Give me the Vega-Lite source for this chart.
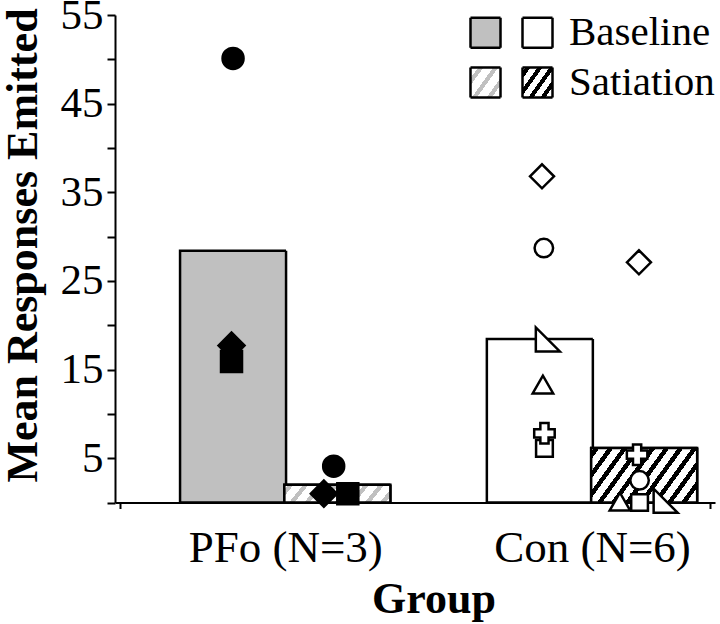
{
  "$schema": "https://vega.github.io/schema/vega-lite/v6.json",
  "width": 600,
  "height": 487.5,
  "autosize": {"type": "none"},
  "padding": {"left": 115, "top": 15, "right": 5, "bottom": 121.5},
  "background": "white",
  "config": {
    "view": {"stroke": null},
    "font": "Liberation Serif",
    "axis": {
      "labelFont": "Liberation Serif",
      "labelColor": "black",
      "labelFontSize": 43,
      "labelLimit": 400,
      "titleFont": "Liberation Serif",
      "titleFontWeight": "bold",
      "titleFontSize": 44,
      "titleColor": "black",
      "domainColor": "black",
      "domainWidth": 2,
      "tickColor": "black",
      "tickWidth": 2,
      "grid": false,
      "labelFlush": false,
      "labelOverlap": false,
      "labelBound": false
    }
  },
  "datasets": {
    "bars": [
      {"group": "PFo", "condition": "Baseline", "key": "PB", "pos": 0.83, "value": 28.4},
      {"group": "PFo", "condition": "Satiation", "key": "PS", "pos": 1.17, "value": 2.0},
      {"group": "Con", "condition": "Baseline", "key": "CB", "pos": 1.83, "value": 18.45},
      {"group": "Con", "condition": "Satiation", "key": "CS", "pos": 2.17, "value": 6.15}
    ],
    "points": [
      {"group": "PFo", "condition": "Baseline", "subject": "P1", "pos": 0.83, "value": 50.1},
      {"group": "PFo", "condition": "Baseline", "subject": "P2", "pos": 0.825, "value": 17.7},
      {"group": "PFo", "condition": "Baseline", "subject": "P3", "pos": 0.825, "value": 15.9},
      {"group": "PFo", "condition": "Satiation", "subject": "P1", "pos": 1.158, "value": 4.1},
      {"group": "PFo", "condition": "Satiation", "subject": "P2", "pos": 1.126, "value": 1.0},
      {"group": "PFo", "condition": "Satiation", "subject": "P3", "pos": 1.204, "value": 1.0},
      {"group": "Con", "condition": "Baseline", "subject": "C1", "pos": 1.837, "value": 36.8},
      {"group": "Con", "condition": "Baseline", "subject": "C2", "pos": 1.843, "value": 28.7},
      {"group": "Con", "condition": "Baseline", "subject": "C3", "pos": 1.856, "value": 18.4},
      {"group": "Con", "condition": "Baseline", "subject": "C4", "pos": 1.84, "value": 13.3},
      {"group": "Con", "condition": "Baseline", "subject": "C6", "pos": 1.845, "value": 6.1},
      {"group": "Con", "condition": "Baseline", "subject": "C5", "pos": 1.845, "value": 7.8},
      {"group": "Con", "condition": "Satiation", "subject": "C1", "pos": 2.153, "value": 27.1},
      {"group": "Con", "condition": "Satiation", "subject": "C5", "pos": 2.147, "value": 5.4},
      {"group": "Con", "condition": "Satiation", "subject": "C2", "pos": 2.155, "value": 2.5},
      {"group": "Con", "condition": "Satiation", "subject": "C6", "pos": 2.155, "value": 0},
      {"group": "Con", "condition": "Satiation", "subject": "C4", "pos": 2.091, "value": 0.1},
      {"group": "Con", "condition": "Satiation", "subject": "C3", "pos": 2.24, "value": 0.2}
    ]
  },
  "layer": [
    {
      "data": {"name": "bars"},
      "mark": {"type": "bar", "orient": "vertical", "width": 106, "stroke": "black", "strokeWidth": 2.5},
      "encoding": {
        "x": {
          "field": "pos", "type": "quantitative",
          "scale": {"domain": [0.4615, 2.3846], "nice": false, "zero": false},
          "axis": {
            "values": [0.4615, 1, 2, 2.3846],
            "labelExpr": "datum.value == 1 ? 'PFo (N=3)' : datum.value == 2 ? 'Con (N=6)' : ''",
            "tickOpacity": {"condition": {"test": "datum.value == 1 || datum.value == 2", "value": 0}, "value": 1},
            "tickSize": 6,
            "labelFontSize": 45,
            "labelBaseline": "alphabetic",
            "labelPadding": 53,
            "title": "Group",
            "titleX": 318.5,
            "titleY": 110,
            "titleBaseline": "alphabetic",
            "titleAlign": "center"
          }
        },
        "y": {
          "field": "value", "type": "quantitative", "stack": null,
          "scale": {"domain": [0, 55], "nice": false},
          "axis": {
            "values": [0, 5, 10, 15, 20, 25, 30, 35, 40, 45, 50, 55],
            "labelExpr": "datum.value % 10 == 5 ? datum.label : ''",
            "tickSize": 8,
            "labelPadding": 4,
            "title": "Mean Responses Emitted",
            "titleX": -79,
            "titleY": 230,
            "titleAngle": -90,
            "titleBaseline": "alphabetic",
            "titleAlign": "center"
          }
        },
        "fill": {"condition": {"test": "datum.key === 'PB'", "value": "#c0c0c0"}, "value": "#ffffff"},
        "strokeDash": {
          "field": "key", "type": "nominal",
          "scale": {"domain": ["PB", "CB", "PS", "CS"], "range": [[1, 0], [1, 0], [1, 0], [1, 0]]},
          "legend": {
            "orient": "none",
            "direction": "horizontal",
            "legendX": 350,
            "legendY": -3,
            "columns": 2,
            "title": null,
            "padding": 0,
            "symbolType": "square",
            "symbolSize": 900,
            "symbolStrokeColor": "black",
            "symbolStrokeWidth": 2.5,
            "symbolOpacity": 1,
            "labelFont": "Liberation Serif",
            "labelFontSize": 41,
            "labelColor": "black",
            "labelOffset": 11,
            "labelLimit": 300,
            "columnPadding": -17,
            "rowPadding": 8,
            "labelExpr": "datum.value == 'CB' ? 'Baseline' : datum.value == 'CS' ? 'Satiation' : ''",
            "encoding": {
              "symbols": {
                "stroke": {"value": "#000000"},
                "strokeWidth": {"value": 2.5},
                "fill": {"value": {"expr": "datum.value === 'PB' ? '#c0c0c0' : datum.value === 'CB' ? '#ffffff' : datum.value === 'PS' ? {gradient: 'linear', x1: 0, y1: 0, x2: 1.135, y2: 0.811, stops: [{offset: 0, color: '#ffffff'}, {offset: 0.15, color: '#ffffff'}, {offset: 0.15, color: '#c0c0c0'}, {offset: 0.25, color: '#c0c0c0'}, {offset: 0.25, color: '#ffffff'}, {offset: 0.44, color: '#ffffff'}, {offset: 0.44, color: '#c0c0c0'}, {offset: 0.54, color: '#c0c0c0'}, {offset: 0.54, color: '#ffffff'}, {offset: 0.73, color: '#ffffff'}, {offset: 0.73, color: '#c0c0c0'}, {offset: 0.83, color: '#c0c0c0'}, {offset: 0.83, color: '#ffffff'}, {offset: 1, color: '#ffffff'}]} : {gradient: 'linear', x1: 0, y1: 0, x2: 1.135, y2: 0.811, stops: [{offset: 0, color: '#ffffff'}, {offset: 0.06, color: '#ffffff'}, {offset: 0.06, color: '#000000'}, {offset: 0.157, color: '#000000'}, {offset: 0.157, color: '#ffffff'}, {offset: 0.293, color: '#ffffff'}, {offset: 0.293, color: '#000000'}, {offset: 0.39, color: '#000000'}, {offset: 0.39, color: '#ffffff'}, {offset: 0.526, color: '#ffffff'}, {offset: 0.526, color: '#000000'}, {offset: 0.623, color: '#000000'}, {offset: 0.623, color: '#ffffff'}, {offset: 0.759, color: '#ffffff'}, {offset: 0.759, color: '#000000'}, {offset: 0.856, color: '#000000'}, {offset: 0.856, color: '#ffffff'}, {offset: 0.992, color: '#ffffff'}, {offset: 0.992, color: '#000000'}, {offset: 1, color: '#000000'}]}"}}
              }
            }
          }
        }
      }
    },
    {
      "data": {"name": "bars"},
      "transform": [{"filter": "datum.key === 'PS'"}],
      "mark": {
        "type": "bar", "orient": "vertical", "width": 106, "stroke": "black", "strokeWidth": 2.5,
        "fill": {"gradient": "linear", "x1": 0, "y1": 0, "x2": 1.114, "y2": 0.1485, "stops": [
          {"offset": 0, "color": "#ffffff"},
          {"offset": 0.03, "color": "#ffffff"}, {"offset": 0.03, "color": "#c0c0c0"}, {"offset": 0.076, "color": "#c0c0c0"}, {"offset": 0.076, "color": "#ffffff"},
          {"offset": 0.156, "color": "#ffffff"}, {"offset": 0.156, "color": "#c0c0c0"}, {"offset": 0.202, "color": "#c0c0c0"}, {"offset": 0.202, "color": "#ffffff"},
          {"offset": 0.282, "color": "#ffffff"}, {"offset": 0.282, "color": "#c0c0c0"}, {"offset": 0.328, "color": "#c0c0c0"}, {"offset": 0.328, "color": "#ffffff"},
          {"offset": 0.408, "color": "#ffffff"}, {"offset": 0.408, "color": "#c0c0c0"}, {"offset": 0.454, "color": "#c0c0c0"}, {"offset": 0.454, "color": "#ffffff"},
          {"offset": 0.534, "color": "#ffffff"}, {"offset": 0.534, "color": "#c0c0c0"}, {"offset": 0.58, "color": "#c0c0c0"}, {"offset": 0.58, "color": "#ffffff"},
          {"offset": 0.66, "color": "#ffffff"}, {"offset": 0.66, "color": "#c0c0c0"}, {"offset": 0.706, "color": "#c0c0c0"}, {"offset": 0.706, "color": "#ffffff"},
          {"offset": 0.786, "color": "#ffffff"}, {"offset": 0.786, "color": "#c0c0c0"}, {"offset": 0.832, "color": "#c0c0c0"}, {"offset": 0.832, "color": "#ffffff"},
          {"offset": 0.912, "color": "#ffffff"}, {"offset": 0.912, "color": "#c0c0c0"}, {"offset": 0.958, "color": "#c0c0c0"}, {"offset": 0.958, "color": "#ffffff"},
          {"offset": 1, "color": "#ffffff"}
        ]}
      },
      "encoding": {
        "x": {"field": "pos", "type": "quantitative"},
        "y": {"field": "value", "type": "quantitative", "stack": null}
      }
    },
    {
      "data": {"name": "bars"},
      "transform": [{"filter": "datum.key === 'CS'"}],
      "mark": {
        "type": "bar", "orient": "vertical", "width": 106, "stroke": "black", "strokeWidth": 2.5,
        "fill": {"gradient": "linear", "x1": 0, "y1": 0, "x2": 1.205, "y2": 0.446, "stops": [
          {"offset": 0, "color": "#ffffff"},
          {"offset": 0.02, "color": "#ffffff"}, {"offset": 0.02, "color": "#000000"}, {"offset": 0.058, "color": "#000000"}, {"offset": 0.058, "color": "#ffffff"},
          {"offset": 0.116, "color": "#ffffff"}, {"offset": 0.116, "color": "#000000"}, {"offset": 0.154, "color": "#000000"}, {"offset": 0.154, "color": "#ffffff"},
          {"offset": 0.213, "color": "#ffffff"}, {"offset": 0.213, "color": "#000000"}, {"offset": 0.251, "color": "#000000"}, {"offset": 0.251, "color": "#ffffff"},
          {"offset": 0.309, "color": "#ffffff"}, {"offset": 0.309, "color": "#000000"}, {"offset": 0.347, "color": "#000000"}, {"offset": 0.347, "color": "#ffffff"},
          {"offset": 0.406, "color": "#ffffff"}, {"offset": 0.406, "color": "#000000"}, {"offset": 0.444, "color": "#000000"}, {"offset": 0.444, "color": "#ffffff"},
          {"offset": 0.502, "color": "#ffffff"}, {"offset": 0.502, "color": "#000000"}, {"offset": 0.54, "color": "#000000"}, {"offset": 0.54, "color": "#ffffff"},
          {"offset": 0.598, "color": "#ffffff"}, {"offset": 0.598, "color": "#000000"}, {"offset": 0.636, "color": "#000000"}, {"offset": 0.636, "color": "#ffffff"},
          {"offset": 0.695, "color": "#ffffff"}, {"offset": 0.695, "color": "#000000"}, {"offset": 0.733, "color": "#000000"}, {"offset": 0.733, "color": "#ffffff"},
          {"offset": 0.791, "color": "#ffffff"}, {"offset": 0.791, "color": "#000000"}, {"offset": 0.829, "color": "#000000"}, {"offset": 0.829, "color": "#ffffff"},
          {"offset": 0.888, "color": "#ffffff"}, {"offset": 0.888, "color": "#000000"}, {"offset": 0.926, "color": "#000000"}, {"offset": 0.926, "color": "#ffffff"},
          {"offset": 0.984, "color": "#ffffff"}, {"offset": 0.984, "color": "#000000"}, {"offset": 1, "color": "#000000"}
        ]}
      },
      "encoding": {
        "x": {"field": "pos", "type": "quantitative"},
        "y": {"field": "value", "type": "quantitative", "stack": null}
      }
    },
    {
      "data": {"name": "points"},
      "mark": {"type": "point", "filled": true, "stroke": "black", "strokeWidth": 2.5, "opacity": 1, "strokeOpacity": 1},
      "encoding": {
        "x": {"field": "pos", "type": "quantitative"},
        "y": {"field": "value", "type": "quantitative"},
        "shape": {
          "field": "subject", "type": "nominal", "legend": null,
          "scale": {
            "domain": ["P1", "P2", "P3", "C1", "C2", "C3", "C4", "C5", "C6"],
            "range": ["circle", "diamond", "square", "diamond", "circle", "M -1 -1 L -1 1 L 1 1 Z", "triangle-up", "cross", "square"]
          }
        },
        "fill": {"condition": {"test": "datum.group === 'PFo'", "value": "#000000"}, "value": "#ffffff"},
        "size": {
          "condition": [
            {"test": "datum.subject === 'P2'", "value": 676},
            {"test": "datum.subject === 'P1' || datum.subject === 'P3'", "value": 441},
            {"test": "datum.subject === 'C1' || datum.subject === 'C3'", "value": 576},
            {"test": "datum.subject === 'C6'", "value": 280},
            {"test": "datum.subject === 'C2'", "value": 342}
          ],
          "value": 420
        }
      }
    }
  ]
}
